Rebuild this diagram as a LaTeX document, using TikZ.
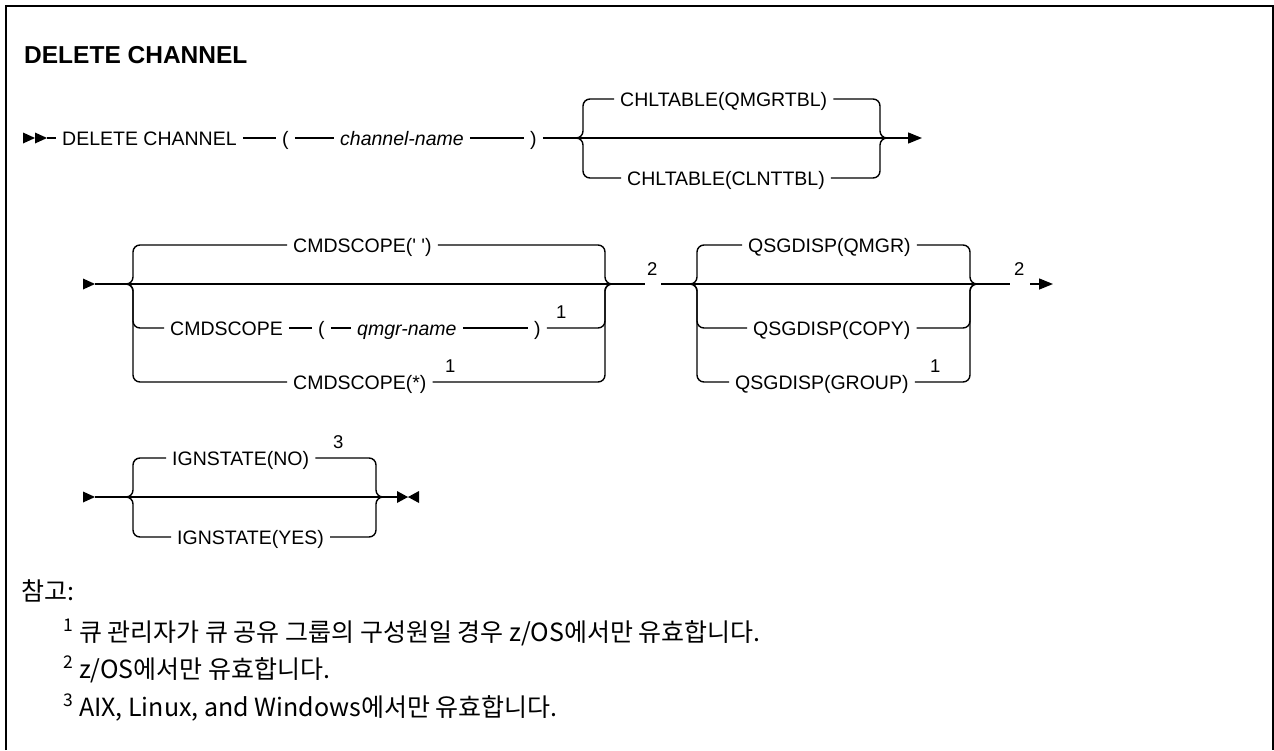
\documentclass[tikz,border=0pt]{standalone}
\usepackage{fontspec}
\usepackage{xcolor}
\usepackage{tikz}
\usetikzlibrary{positioning,arrows.meta,calc}
\setmainfont{Liberation Sans}
\newfontfamily\railfamily{Liberation Sans}
\newfontfamily\notefamily{Noto Sans CJK KR}
\newcommand\railfont{\railfamily\fontsize{19.5}{23}\selectfont}
\newcommand\supfont{\railfamily\fontsize{18.5}{22}\selectfont}
\newcommand\titlefont{\railfamily\bfseries\fontsize{24.5}{29}\selectfont}
\newcommand\notefont{\notefamily\fontsize{25}{30}\selectfont}
\definecolor{railc}{RGB}{0,0,0}
\definecolor{framec}{RGB}{0,0,0}
\tikzset{
  rail/.style    = {draw=railc, line width=1.4pt},
  branch/.style  = {rail, rounded corners=7pt},
  kw/.style      = {font=\railfont, text=railc, inner xsep=6pt, inner ysep=0pt,
                    text height=14pt, text depth=0pt, anchor=west},
  var/.style     = {kw, font=\railfont\itshape},
  sup/.style     = {font=\supfont, text=railc, inner sep=0pt, anchor=base west},
  endtip/.style  = {rail, -{Triangle[length=14pt,width=11pt]}},
  tipfill/.style = {fill=railc},
  note/.style    = {font=\notefont, text=railc, inner sep=0pt, anchor=base west},
}

\begin{document}
\begin{tikzpicture}[x=1pt,y=-1pt]
\useasboundingbox (0,0) rectangle (1274,750);
\draw[framec, line width=2pt] (6,750) -- (6,6) -- (1273,6) -- (1273,750);

\node[font=\titlefont, inner sep=0pt, anchor=base west] (title) at (24,63) {DELETE CHANNEL};

% row 1
\coordinate (r1s) at (47,138);
\fill[tipfill] (r1s) -- ++(-12,-5.5) -- ++(0,11) -- cycle;
\fill[tipfill] ($(r1s)+(-12,0)$) -- ++(-12,-5.5) -- ++(0,11) -- cycle;
\node[kw] (delch) at (56,138) {DELETE CHANNEL};
\node[kw] (lp1) at (276,138) {(};
\node[var] (chname) at (334,138) {channel-name};
\node[kw] (rp1) at (524,138) {)};
\coordinate (r1jl) at (575,138);
\coordinate (r1vl) at (583,138);
\node[kw] (qmgrtbl) at (614,99) {CHLTABLE(QMGRTBL)};
\node[kw] (clnttbl) at (621,178) {CHLTABLE(CLNTTBL)};
\coordinate (r1vr) at (880,138);
\coordinate (r1jr) at (890,138);
\coordinate (r1e) at (922,138);

\draw[rail] (r1s) -- (delch) -- (lp1) -- (chname) -- (rp1) -- (r1jl) -- (r1jr);
\draw[branch] (r1jl) -| (r1vl |- qmgrtbl.west) -- (qmgrtbl);
\draw[branch] (r1jl) -| (r1vl |- clnttbl.west) -- (clnttbl);
\draw[branch] (qmgrtbl) -| (r1vr) -- (r1jr);
\draw[branch] (clnttbl) -| (r1vr) -- (r1jr);
\draw[endtip] (r1jr) -- (r1e);

% row 2
\coordinate (r2s) at (95,284);
\fill[tipfill] (r2s) -- ++(-12,-5.5) -- ++(0,11) -- cycle;
\coordinate (r2jl) at (125,284);
\coordinate (r2vl) at (133,284);
\node[kw] (cmdblank) at (287,245) {CMDSCOPE(\textquotesingle\ \textquotesingle)};
\node[kw] (cmdnm) at (164,328) {CMDSCOPE};
\node[kw] (lp2) at (312,328) {(};
\node[var] (qmnm) at (351,328) {qmgr-name};
\node[kw] (rp2) at (528,328) {)};
\node[sup] (s1a) at (556,318) {1};
\node[kw] (cmdstar) at (287,382) {CMDSCOPE(*)};
\node[sup] (s1b) at (445,372) {1};
\coordinate (r2vr) at (605,284);
\coordinate (r2jr) at (614,284);
\coordinate (g2a) at (645,284);
\node[sup] (s2a) at (647,275) {2};
\coordinate (g2b) at (661,284);

\draw[rail] (r2s) -- (r2jr) -- (g2a);
\draw[branch] (r2jl) -| (r2vl |- cmdblank.west) -- (cmdblank);
\draw[branch] (r2jl) -| (r2vl |- cmdnm.west) -- (cmdnm);
\draw[branch] (r2jl) -| (r2vl |- cmdstar.west) -- (cmdstar);
\draw[rail] (cmdnm) -- (lp2) -- (qmnm) -- (rp2);
\draw[branch] (cmdblank) -| (r2vr) -- (r2jr);
\draw[branch] (rp2) -| (r2vr) -- (r2jr);
\draw[branch] (cmdstar) -| (r2vr) -- (r2jr);

\coordinate (r2jl2) at (690,284);
\coordinate (r2vl2) at (697,284);
\node[kw] (qmgr) at (742,245) {QSGDISP(QMGR)};
\node[kw] (copy) at (747,328) {QSGDISP(COPY)};
\node[kw] (group) at (729,382) {QSGDISP(GROUP)};
\node[sup] (s1c) at (930,372) {1};
\coordinate (r2vr2) at (970,284);
\coordinate (r2jr2) at (978,284);
\coordinate (g2c) at (1010,284);
\node[sup] (s2b) at (1014,275) {2};
\coordinate (g2d) at (1030,284);
\coordinate (r2e) at (1053,284);

\draw[rail] (g2b) -- (r2jr2) -- (g2c);
\draw[branch] (r2jl2) -| (r2vl2 |- qmgr.west) -- (qmgr);
\draw[branch] (r2jl2) -| (r2vl2 |- copy.west) -- (copy);
\draw[branch] (r2jl2) -| (r2vl2 |- group.west) -- (group);
\draw[branch] (qmgr) -| (r2vr2) -- (r2jr2);
\draw[branch] (copy) -| (r2vr2) -- (r2jr2);
\draw[branch] (group) -| (r2vr2) -- (r2jr2);
\draw[endtip] (g2d) -- (r2e);

% row 3
\coordinate (r3s) at (95,497);
\fill[tipfill] (r3s) -- ++(-12,-5.5) -- ++(0,11) -- cycle;
\coordinate (r3jl) at (125,497);
\coordinate (r3vl) at (133,497);
\node[kw] (ignno) at (166,458) {IGNSTATE(NO)};
\node[sup] (s3) at (333,448) {3};
\node[kw] (ignyes) at (171,537) {IGNSTATE(YES)};
\coordinate (r3vr) at (376,497);
\coordinate (r3jr) at (385,497);
\coordinate (r3e) at (397,497);

\draw[rail] (r3s) -- (r3jr) -- (r3e);
\draw[branch] (r3jl) -| (r3vl |- ignno.west) -- (ignno);
\draw[branch] (r3jl) -| (r3vl |- ignyes.west) -- (ignyes);
\draw[branch] (ignno) -| (r3vr) -- (r3jr);
\draw[branch] (ignyes) -| (r3vr) -- (r3jr);
\fill[tipfill] (r3e) -- ++(11,0) -- ++(-11,-6) -- cycle;
\fill[tipfill] (r3e) -- ++(11,0) -- ++(-11,6) -- cycle;
\fill[tipfill] ($(r3e)+(22,0)$) -- ++(-11,0) -- ++(11,-6) -- cycle;
\fill[tipfill] ($(r3e)+(22,0)$) -- ++(-11,0) -- ++(11,6) -- cycle;

% notes
\node[note] (nhead) at (21,600) {참고:};
\node[note] (n1) at (63,641) {\textsuperscript{1} 큐 관리자가 큐 공유 그룹의 구성원일 경우 z/OS에서만 유효합니다.};
\node[note] (n2) at (63,678) {\textsuperscript{2} z/OS에서만 유효합니다.};
\node[note] (n3) at (63,716) {\textsuperscript{3} AIX, Linux, and Windows에서만 유효합니다.};

\end{tikzpicture}
\end{document}
